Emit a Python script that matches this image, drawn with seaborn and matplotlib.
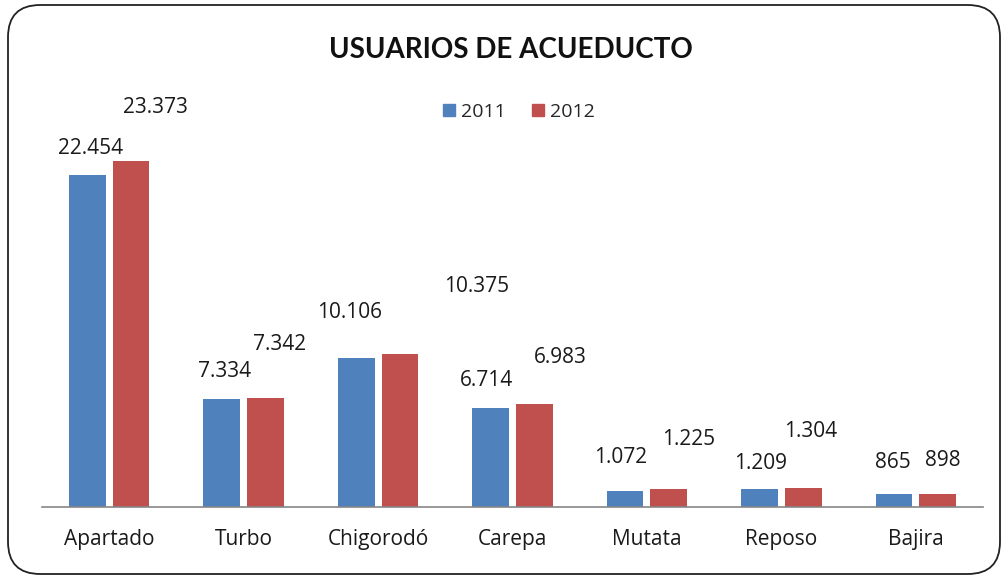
import matplotlib
matplotlib.use("Agg")
import matplotlib.pyplot as plt
import seaborn as sns
import pandas as pd
from matplotlib.patches import FancyBboxPatch
from matplotlib.lines import Line2D

categories = ["Apartado", "Turbo", "Chigorodó", "Carepa", "Mutata", "Reposo", "Bajira"]
years = ["2011", "2012"]
values_2011 = [22454, 7334, 10106, 6714, 1072, 1209, 865]
values_2012 = [23373, 7342, 10375, 6983, 1225, 1304, 898]
colors = ["#4F81BD", "#C0504D"]

# label offsets in pixels (dx, dy) from the top centre of each bar
offsets_2011 = [(3, 27), (3, 27), (-7, 45), (-4, 27), (-4, 34), (1, 26), (-1, 32)]
offsets_2012 = [(24, 54), (14, 54), (77, 67), (26, 46), (20, 49), (7, 56), (5, 33)]

df = pd.DataFrame({
    "cat": categories * 2,
    "year": [years[0]] * len(categories) + [years[1]] * len(categories),
    "val": values_2011 + values_2012,
})

sns.set_theme(style="white")
plt.rcParams["font.family"] = ["Open Sans", "DejaVu Sans"]

W, H = 1006, 579
fig = plt.figure(figsize=(W / 100, H / 100), dpi=100)
ax = fig.add_axes([42 / W, (H - 507) / H, (983 - 42) / W, 384.4 / H])

sns.barplot(data=df, x="cat", y="val", hue="year", palette=colors,
            width=0.65, gap=0.16, ax=ax, legend=False, saturation=1,
            edgecolor="none")
ax.set_ylim(0, 26000)
ax.set_xlim(-0.5, len(categories) - 0.5)
ax.set_xlabel("")
ax.set_ylabel("")
ax.set_yticks([])
for s in ["top", "right", "left"]:
    ax.spines[s].set_visible(False)
ax.spines["bottom"].set_color("#868686")
ax.spines["bottom"].set_linewidth(1.2)
ax.tick_params(axis="x", length=0, labelsize=15, pad=16, colors="#1a1a1a")


def fmt(v):
    return f"{v:,}".replace(",", ".")


for container, vals, offs in zip(ax.containers, [values_2011, values_2012],
                                 [offsets_2011, offsets_2012]):
    for bar, v, (dx, dy) in zip(container, vals, offs):
        x = bar.get_x() + bar.get_width() / 2
        ax.annotate(fmt(v), (x, bar.get_height()), xytext=(dx, dy),
                    textcoords="offset pixels", ha="center", va="center",
                    fontsize=15, color="#1a1a1a", annotation_clip=False)

fig.text(511 / W, 1 - 50 / H, "USUARIOS DE ACUEDUCTO", ha="center",
         va="center", fontsize=20, fontweight="bold", color="#111111",
         family=["Lato", "DejaVu Sans"])

handles = [Line2D([], [], marker="s", linestyle="none", markersize=9,
                  markerfacecolor=c, markeredgecolor=c) for c in colors]
fig.legend(handles, years, loc="center", bbox_to_anchor=(517 / W, 1 - 112 / H),
           ncol=2, frameon=False, fontsize=14, handletextpad=0.1,
           columnspacing=1.2, handlelength=1.0)

frame = FancyBboxPatch((8 / W, 5 / H), (1000 - 8) / W, (574 - 5) / H,
                       boxstyle="round,pad=0,rounding_size=0.032",
                       transform=fig.transFigure, facecolor="none",
                       edgecolor="#222222", linewidth=1.3,
                       mutation_aspect=W / H)
fig.patches.append(frame)

fig.savefig("out.png", dpi=100, facecolor="white")
